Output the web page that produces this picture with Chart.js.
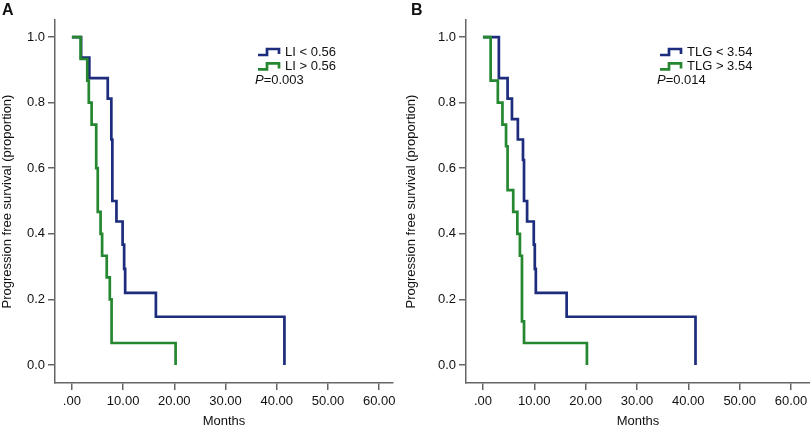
<!DOCTYPE html>
<html>
<head>
<meta charset="utf-8">
<title>Progression free survival</title>
<script src="https://cdn.jsdelivr.net/npm/chart.js@4.4.1/dist/chart.umd.min.js"></script>
<style>
  body { margin: 0; background: #fff; width: 810px; height: 431px; overflow: hidden; position: relative; font-family: "Liberation Sans", Arial, sans-serif; }
  .panel { position: absolute; top: 0; height: 431px; }
  #panelA { left: 0; width: 400px; }
  #panelB { left: 400px; width: 410px; }
  .letra { position: absolute; top: 2px; font-weight: bold; font-size: 16px; line-height: 16px; color: #111; }
</style>
</head>
<body>
<div class="panel" id="panelA"><canvas id="chartA" width="400" height="431"></canvas></div>
<div class="panel" id="panelB"><canvas id="chartB" width="410" height="431"></canvas></div>
<div class="letra" style="left:2px">A</div>
<div class="letra" style="left:411px">B</div>
<script>
// ticks
const mesesTicks = [0, 10, 20, 30, 40, 50, 60];
const propTicks = [0, 0.2, 0.4, 0.6, 0.8, 1.0];

// Panel A: LI
const tiempoA_bajo = [0, 1.8, 3.4, 7.0, 7.7, 7.9, 8.7, 9.9, 10.2, 10.4, 16.4, 41.5];
const survA_bajo = [1, 0.9375, 0.875, 0.8125, 0.6875, 0.5, 0.4375, 0.367, 0.293, 0.22, 0.147, 0];
const tiempoA_alto = [0, 1.7, 3.0, 3.3, 3.85, 4.75, 5.05, 5.6, 5.9, 6.8, 7.4, 7.75, 20.25];
const survA_alto = [1, 0.933, 0.867, 0.8, 0.733, 0.6, 0.467, 0.4, 0.333, 0.267, 0.2, 0.067, 0];

// Panel B: TLG
const tiempoB_bajo = [0, 3.1, 4.8, 5.65, 6.8, 7.8, 8.0, 8.6, 9.9, 10.1, 10.3, 16.3, 41.4];
const survB_bajo = [1, 0.875, 0.8125, 0.75, 0.6875, 0.625, 0.5, 0.4375, 0.367, 0.293, 0.22, 0.147, 0];
const tiempoB_alto = [0, 1.5, 2.9, 3.8, 4.5, 4.8, 5.9, 6.7, 7.2, 7.6, 8.0, 20.25];
const survB_alto = [1, 0.867, 0.8, 0.733, 0.667, 0.533, 0.467, 0.4, 0.333, 0.133, 0.067, 0];

const azul = "#1d2c7c";
const verde = "#25872f";
const gris = "#666";
const fuente = '"Liberation Sans", Arial, sans-serif';

// leyenda dibujada a mano (icono escalonado + texto + valor P)
const leyendaKM = {
  id: "leyendaKM",
  afterDraw(chart, args, opts) {
    const ctx = chart.ctx;
    ctx.save();
    ctx.textBaseline = "middle";
    chart.data.datasets.forEach((ds, i) => {
      const x = opts.x;
      const y = opts.y + i * 14.4;
      ctx.strokeStyle = ds.borderColor;
      ctx.lineWidth = 2.7;
      ctx.beginPath();
      ctx.moveTo(x, y + 3);
      ctx.lineTo(x + 9, y + 3);
      ctx.lineTo(x + 9, y - 3);
      ctx.lineTo(x + 21, y - 3);
      ctx.lineTo(x + 21, y + 2);
      ctx.stroke();
      ctx.fillStyle = "#111";
      ctx.font = "13px " + fuente;
      ctx.fillText(ds.label, x + 27, y);
    });
    const yP = opts.y + 2 * 14.4;
    ctx.fillStyle = "#111";
    ctx.font = "italic 13px " + fuente;
    ctx.fillText("P", opts.x - 3, yP);
    const w = ctx.measureText("P").width;
    ctx.font = "13px " + fuente;
    ctx.fillText("=" + opts.p, opts.x - 3 + w, yP);
    ctx.restore();
  }
};

const crearKM = (canvasId, series, cfg) => {
  const datasets = series.map((s) => ({
    label: s.label,
    data: s.t.map((t, i) => ({ x: t, y: s.s[i] })),
    borderColor: s.color,
    backgroundColor: s.color,
    borderWidth: 2.7,
    stepped: "before",
    pointRadius: 0,
    fill: false,
    order: s.orden,
  }));
  return new Chart(document.querySelector(canvasId), {
    type: "line",
    data: { datasets },
    options: {
      responsive: false,
      animation: false,
      events: [],
      layout: { padding: { top: 20, right: cfg.padRight, bottom: 0, left: 0 } },
      plugins: {
        legend: { display: false },
        tooltip: { enabled: false },
        leyendaKM: { x: cfg.legX, y: 52, p: cfg.p },
      },
      scales: {
        x: {
          type: "linear",
          min: -3.3,
          max: cfg.xMax,
          afterBuildTicks: (s) => { s.ticks = mesesTicks.map((v) => ({ value: v })); },
          afterFit: (s) => { s.height = 48; s.paddingLeft = 0; s.paddingRight = 0; },
          ticks: {
            padding: 4,
            color: "#111",
            font: { size: 13, family: fuente },
            callback: (v) => (v === 0 ? ".00" : Number(v).toFixed(2)),
          },
          grid: { display: true, drawOnChartArea: false, drawTicks: true, tickLength: 7, color: gris, lineWidth: 1.5 },
          border: { display: true, color: gris, width: 1.5 },
          title: { display: true, text: "Months", color: "#111", font: { size: 13, family: fuente }, padding: { top: 0, bottom: 2 } },
        },
        y: {
          type: "linear",
          min: -0.055,
          max: 1.052,
          afterBuildTicks: (s) => { s.ticks = propTicks.map((v) => ({ value: v })); },
          afterFit: (s) => { s.width = cfg.yWidth; },
          ticks: {
            padding: 3,
            color: "#111",
            font: { size: 13, family: fuente },
            callback: (v) => Number(v).toFixed(1),
          },
          grid: { display: true, drawOnChartArea: false, drawTicks: true, tickLength: 7, color: gris, lineWidth: 1.5 },
          border: { display: true, color: gris, width: 1.5 },
          title: { display: true, text: "Progression free survival (proportion)", color: "#111", font: { size: 13, family: fuente }, padding: { top: cfg.titlePad, bottom: 0 } },
        },
      },
    },
    plugins: [leyendaKM],
  });
};

crearKM("#chartA", [
  { label: "LI < 0.56", t: tiempoA_bajo, s: survA_bajo, color: azul, orden: 1 },
  { label: "LI > 0.56", t: tiempoA_alto, s: survA_alto, color: verde, orden: 0 },
], { padRight: 7, xMax: 62.7, yWidth: 55, titlePad: 0, legX: 258, p: "0.003" });

crearKM("#chartB", [
  { label: "TLG < 3.54", t: tiempoB_bajo, s: survB_bajo, color: azul, orden: 1 },
  { label: "TLG > 3.54", t: tiempoB_alto, s: survB_alto, color: verde, orden: 0 },
], { padRight: 0, xMax: 63.7, yWidth: 66, titlePad: 4, legX: 260, p: "0.014" });
</script>
</body>
</html>
